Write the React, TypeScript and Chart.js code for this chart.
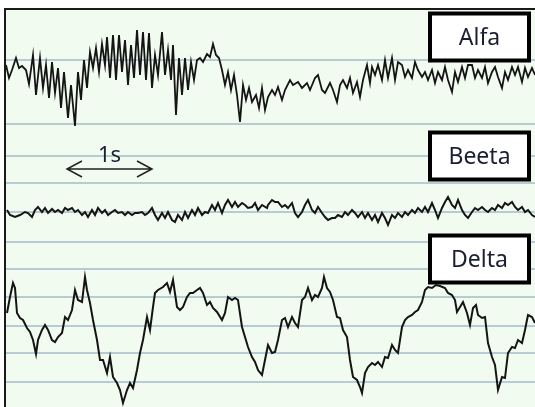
import React, { useEffect, useRef } from "react";
import { Chart, registerables } from "chart.js";

Chart.register(...registerables);

// Time axis: samples, 85 samples per second
const SAMPLE_RATE = 85;
const TOTAL_SAMPLES = 530;

const channelNames = ["Alfa", "Beeta", "Delta"];
// vertical offset of each channel's baseline (display units)
const channelOffsets = [315, 195, 87];
// how far above its baseline each channel's name box sits
const labelRaise = [55, 56, 61];

// horizontal reference lines (display units)
const gridLevels = [347.5, 283, 251.3, 223.7, 195.3, 165.3, 138, 110.3, 81.3, 54, 25];

// [sample, amplitude]
const alfa: [number, number][] = [
  [1, 27], [4, 14], [7, 22], [11, 34], [14, 24], [17, 26], [21, 22], [24, 8], [28, 37], [31, -3],
  [35, 34], [38, 4], [41, 27], [44, -6], [47, 30], [50, -1], [53, 24], [56, -16], [59, 20], [63, -26],
  [66, 7], [70, -34], [73, 20], [76, -8], [79, 32], [82, 4], [85, 40], [88, 24], [91, 44], [94, 20],
  [97, 48], [100, 27], [102, 55], [105, 14], [108, 57], [111, 12], [114, 57], [117, 20], [120, 52], [123, 7],
  [126, 47], [129, 14], [132, 62], [135, 17], [138, 60], [141, 12], [144, 59], [147, 4], [150, 37], [153, 17],
  [157, 60], [160, 17], [163, 42], [166, 12], [168, 47], [171, -23], [174, 34], [177, -3], [180, 34], [183, 2],
  [186, 30], [189, 12], [192, 32], [195, 34], [198, 30], [202, 38], [205, 35], [208, 48], [211, 37], [214, 34],
  [217, 22], [220, 7], [223, 20], [226, 2], [229, 17], [232, -3], [235, -30], [238, 7], [241, -8], [244, 4],
  [247, -10], [251, -3], [254, -16], [257, 4], [260, -18], [263, -5], [267, 2], [270, -3], [273, 5], [277, -8],
  [280, 2], [285, 12], [288, 7], [293, 10], [297, 4], [302, 9], [305, 2], [310, 14], [313, 17], [317, 2],
  [320, -1], [325, 9], [328, 2], [332, -10], [335, 7], [338, 12], [342, 4], [345, 14], [348, -1], [352, 10],
  [355, -5], [358, 12], [362, 27], [365, 9], [367, 25], [370, 17], [373, 27], [377, 12], [380, 32], [383, 14],
  [387, 34], [390, 12], [393, 30], [397, 27], [400, 15], [403, 22], [407, 14], [410, 30], [413, 22], [417, 15],
  [420, 20], [423, 12], [427, 22], [430, 9], [433, 20], [437, 12], [440, 25], [443, 12], [447, 0], [450, 20],
  [453, 10], [457, 25], [460, 14], [463, 27], [467, 27], [470, 14], [473, 22], [477, 14], [480, 25], [483, 9],
  [487, 20], [490, 25], [493, 15], [497, 4], [500, 20], [503, 12], [507, 25], [510, 17], [513, 25], [517, 10],
  [520, 24], [523, 15], [527, 24], [530, 17],
];

const beeta: [number, number][] = [
  [2, 2], [5, -3], [10, -5], [15, -3], [20, 0], [23, -1], [27, -5], [30, 2], [33, 5], [37, 0],
  [40, 4], [43, -1], [47, 3], [50, 0], [53, 2], [57, -1], [60, 4], [63, 2], [67, 4], [70, 0],
  [73, 2], [77, -3], [80, 0], [83, -5], [87, 2], [90, -3], [93, 4], [97, -1], [100, 2], [103, -3],
  [107, 0], [110, 2], [113, -1], [117, 0], [120, -3], [123, 0], [127, -3], [130, -1], [133, -1], [137, 0],
  [140, -3], [143, -1], [147, 4], [150, -3], [153, -8], [157, -1], [160, -6], [163, 0], [167, -8], [170, -10],
  [173, -3], [177, -8], [180, 0], [183, -6], [187, 2], [190, -3], [193, 4], [197, -3], [200, 0], [203, -1],
  [207, 7], [210, 2], [213, 9], [217, -1], [220, 7], [223, 12], [227, 5], [230, 10], [233, 5], [237, 9],
  [240, 7], [243, 4], [247, 5], [250, 9], [253, 2], [257, 7], [262, 4], [263, 7], [267, 12], [270, 10],
  [273, 10], [277, 5], [280, 7], [283, 4], [287, 9], [290, -1], [293, -5], [297, 0], [300, 7], [303, 12],
  [307, 2], [310, -1], [313, 5], [317, -1], [320, -5], [323, -8], [327, -6], [330, -6], [333, -3], [337, -5],
  [340, 0], [343, -3], [347, 2], [350, -1], [353, -5], [357, 0], [360, -6], [363, -1], [367, -8], [370, -3],
  [373, -10], [377, -1], [380, -6], [383, -13], [387, -3], [390, -6], [393, -1], [397, -5], [400, 0], [403, -3],
  [407, 2], [410, -1], [413, 4], [417, 0], [420, 5], [423, 0], [427, 9], [430, 2], [433, -6], [437, 4],
  [440, 10], [443, 15], [447, 7], [450, 4], [453, 12], [457, 2], [460, -3], [463, -6], [467, 0], [470, 4],
  [473, 2], [477, 5], [480, 2], [483, 0], [487, 4], [490, 2], [493, 7], [497, 4], [500, 9], [503, 7],
  [507, 10], [510, 5], [513, 2], [517, 5], [520, 0], [523, 2], [527, -3], [530, -5],
];

const delta: [number, number][] = [
  [2, 7], [5, 23], [8, 37], [10, 32], [12, 7], [15, 2], [18, 0], [22, -8], [25, -12], [28, -20],
  [31, -34], [33, -20], [37, -10], [40, -5], [43, -10], [47, -20], [50, -22], [53, -17], [57, -13], [60, 3],
  [63, 0], [67, 10], [70, 30], [73, 20], [77, 18], [80, 43], [82, 30], [85, 17], [88, 0], [92, -20],
  [95, -40], [98, -40], [102, -53], [105, -37], [108, -57], [112, -63], [115, -70], [118, -83], [122, -70], [125, -63],
  [128, -68], [132, -50], [135, -33], [138, -20], [142, 3], [145, -10], [148, 13], [150, 27], [153, 30], [158, 33],
  [162, 37], [165, 28], [168, 40], [172, 13], [175, 10], [178, 13], [182, 23], [185, 27], [188, 27], [192, 30],
  [195, 32], [198, 27], [202, 15], [205, 18], [208, 12], [212, 8], [217, 0], [220, 7], [223, 23], [227, 20],
  [230, 22], [233, 20], [237, -7], [240, -17], [243, -27], [247, -37], [250, -42], [253, -50], [257, -55], [260, -40],
  [263, -25], [267, -33], [270, -32], [273, -20], [277, 0], [280, 2], [283, -7], [287, 3], [290, -3], [293, -7],
  [297, 20], [300, 23], [303, 32], [307, 20], [310, 25], [313, 23], [317, 32], [319, 43], [322, 32], [325, 28],
  [328, 20], [332, 3], [335, 2], [338, -10], [342, -17], [345, -40], [348, -57], [352, -60], [355, -67], [357, -73],
  [360, -53], [363, -47], [367, -43], [370, -45], [373, -42], [377, -47], [380, -37], [383, -38], [387, -25], [390, -30],
  [393, -33], [397, -7], [400, 0], [403, 3], [407, 5], [410, 8], [413, 10], [417, 18], [420, 30], [423, 33],
  [427, 32], [431, 35], [435, 34], [440, 32], [443, 27], [447, 25], [450, 20], [452, 8], [455, 13], [458, 18],
  [462, 7], [465, -5], [468, 12], [471, 15], [473, 5], [477, 2], [480, 3], [483, -23], [487, -37], [490, -45],
  [493, -70], [497, -57], [500, -58], [503, -33], [507, -27], [510, -28], [513, -20], [517, -23], [520, -10], [523, 5],
  [527, 3], [530, -3],
];

const traces = [alfa, beeta, delta];
const traceWidths = [1.8, 2, 2];

// 1-second scale bar
const scaleBarStart = 62;
const scaleBarLevel = 238;
const scaleBarLabel = "1s";

const TEXT_FONT = '"Noto Sans", "Open Sans", sans-serif';

const overlayPlugin = {
  id: "eegOverlay",
  beforeDraw(chart: any) {
    const { ctx, chartArea: a } = chart;
    ctx.save();
    ctx.fillStyle = "#ffffff";
    ctx.fillRect(0, 0, chart.width, chart.height);
    ctx.fillStyle = "#f2fbef";
    ctx.fillRect(a.left, a.top, a.right - a.left, a.bottom - a.top);
    ctx.restore();
  },
  afterDatasetsDraw(chart: any) {
    const { ctx, chartArea: a, scales } = chart;
    const xs = scales.x;
    const ys = scales.y;
    ctx.save();

    // frame
    ctx.strokeStyle = "#1a1a1a";
    ctx.lineWidth = 2;
    ctx.beginPath();
    ctx.moveTo(a.left, a.bottom);
    ctx.lineTo(a.left, a.top + 1);
    ctx.lineTo(a.right, a.top + 1);
    ctx.stroke();

    // scale bar with arrowheads
    const x0 = xs.getPixelForValue(scaleBarStart);
    const x1 = xs.getPixelForValue(scaleBarStart + SAMPLE_RATE);
    const yb = ys.getPixelForValue(scaleBarLevel);
    ctx.strokeStyle = "#222222";
    ctx.lineWidth = 1.5;
    ctx.beginPath();
    ctx.moveTo(x0, yb);
    ctx.lineTo(x1, yb);
    ctx.moveTo(x0 + 15, yb - 8);
    ctx.lineTo(x0, yb);
    ctx.lineTo(x0 + 15, yb + 8);
    ctx.moveTo(x1 - 15, yb - 8);
    ctx.lineTo(x1, yb);
    ctx.lineTo(x1 - 15, yb + 8);
    ctx.stroke();
    ctx.fillStyle = "#1c1f33";
    ctx.font = `22px ${TEXT_FONT}`;
    ctx.textAlign = "center";
    ctx.textBaseline = "alphabetic";
    ctx.fillText(scaleBarLabel, (x0 + x1) / 2, yb - 7);

    // channel name boxes
    const boxW = 99;
    const boxH = 47;
    channelNames.forEach((name, i) => {
      const cy = ys.getPixelForValue(channelOffsets[i] + labelRaise[i]);
      const bx = a.right - 6 - boxW;
      const by = cy - boxH / 2;
      ctx.fillStyle = "#ffffff";
      ctx.fillRect(bx, by, boxW, boxH);
      ctx.strokeStyle = "#000000";
      ctx.lineWidth = 4;
      ctx.strokeRect(bx, by, boxW, boxH);
      ctx.fillStyle = "#1c1f33";
      ctx.font = `23px ${TEXT_FONT}`;
      ctx.textAlign = "center";
      ctx.textBaseline = "middle";
      ctx.fillText(name, bx + boxW / 2, cy + 1);
    });

    ctx.restore();
  },
};

export default function App() {
  const canvasRef = useRef<HTMLCanvasElement | null>(null);

  useEffect(() => {
    if (!canvasRef.current) return;
    const datasets = traces.map((trace, i) => ({
      label: channelNames[i],
      data: trace.map(([s, v]) => ({ x: s, y: channelOffsets[i] + v })),
      borderColor: "#141414",
      borderWidth: traceWidths[i],
      pointRadius: 0,
      tension: 0,
      fill: false,
    }));

    const chart = new Chart(canvasRef.current, {
      type: "line",
      data: { datasets },
      options: {
        animation: false,
        responsive: false,
        layout: { padding: { left: 5, top: 8, right: 0, bottom: 0 } },
        plugins: { legend: { display: false }, tooltip: { enabled: false } },
        scales: {
          x: { type: "linear", min: 0, max: TOTAL_SAMPLES, display: false },
          y: {
            type: "linear",
            min: 0,
            max: 399,
            display: true,
            ticks: { display: false },
            border: { display: false },
            grid: { color: "#b7cbd5", lineWidth: 2, drawTicks: false },
            afterBuildTicks: (scale: any) => {
              scale.ticks = gridLevels.map((v) => ({ value: v }));
            },
            afterFit: (scale: any) => {
              scale.width = 0;
            },
          },
        },
      },
      plugins: [overlayPlugin],
    });
    return () => chart.destroy();
  }, []);

  return (
    <div style={{ position: "absolute", left: 0, top: 0, width: 535, height: 407 }}>
      <canvas ref={canvasRef} width={535} height={407} style={{ display: "block" }} />
    </div>
  );
}
